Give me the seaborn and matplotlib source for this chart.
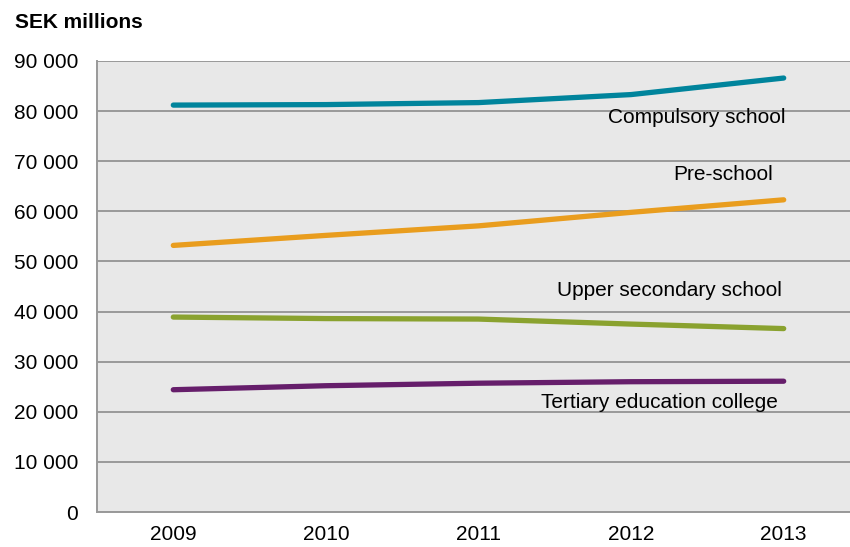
import matplotlib
matplotlib.use("Agg")
import matplotlib.pyplot as plt
from matplotlib.ticker import FixedLocator, FuncFormatter
import seaborn as sns
import pandas as pd
import numpy as np

years = [2009, 2010, 2011, 2012, 2013]
compulsory = [81200, 81300, 81700, 83300, 86600]
preschool = [53200, 55200, 57100, 59800, 62300]
upper_secondary = [38900, 38600, 38500, 37500, 36600]
tertiary = [24400, 25200, 25700, 26000, 26100]
series_names = ["Compulsory school", "Pre-school", "Upper secondary school", "Tertiary education college"]
colors = ["#00849C", "#E99D1E", "#8AA22F", "#661E6B"]
label_y = [78700, 67300, 44200, 21800]
label_x = [2013.01, 2012.93, 2012.99, 2012.96]
y_ticks = list(range(0, 90001, 10000))

rows = []
for name, vals in zip(series_names, [compulsory, preschool, upper_secondary, tertiary]):
    for y, v in zip(years, vals):
        rows.append({"Year": y, "Value": v, "Series": name})
df = pd.DataFrame(rows)

sns.set_style("white")
plt.rcParams["font.family"] = ["Liberation Sans", "DejaVu Sans"]
plt.rcParams["text.color"] = "#000000"

fig = plt.figure(figsize=(8.5, 5.47), dpi=100)
W, H = 850, 547
left, right, top, bottom = 97, 860, 61, 512
ax = fig.add_axes([left / W, 1 - bottom / H, (right - left) / W, (bottom - top) / H])
ax.set_facecolor("#E8E8E8")

sns.lineplot(data=df, x="Year", y="Value", hue="Series", palette=colors,
             hue_order=series_names, linewidth=3.8, ax=ax, legend=False,
             solid_capstyle="round", zorder=3)

ax.set_xlim(2008.5, 2013.5)
ax.set_ylim(0, 90000)
ax.yaxis.set_major_locator(FixedLocator(y_ticks))
ax.yaxis.set_major_formatter(FuncFormatter(lambda v, p: f"{int(v):,}".replace(",", " ")))
ax.grid(axis="y", color="#999999", linewidth=1.4, zorder=1)
ax.set_axisbelow(True)

ax.set_xticks(years)
ax.set_xticklabels([str(y) for y in years])
ax.set_xticks([2008.5 + i for i in range(6)], minor=True)
ax.tick_params(axis="x", which="major", length=0, pad=9, labelsize=15, labelcolor="#000000")
ax.tick_params(axis="x", which="minor", length=4.5, width=1.3, color="#999999", direction="out")
ax.tick_params(axis="y", which="major", length=4.5, width=1.3, color="#999999", labelsize=15, pad=9, labelcolor="#000000")
ax.set_xlabel("")
ax.set_ylabel("")

for s in ["top", "right"]:
    ax.spines[s].set_visible(False)
for s in ["left", "bottom"]:
    ax.spines[s].set_color("#999999")
    ax.spines[s].set_linewidth(1.4)

for name, lx, ly in zip(series_names, label_x, label_y):
    ax.text(lx, ly, name, ha="right", va="center", fontsize=15, color="#000000", zorder=4)

fig.text(15 / W, 1 - 22 / H, "SEK millions", ha="left", va="center", fontsize=15,
         fontweight="bold", color="#000000")

fig.savefig("out.png", dpi=100)
